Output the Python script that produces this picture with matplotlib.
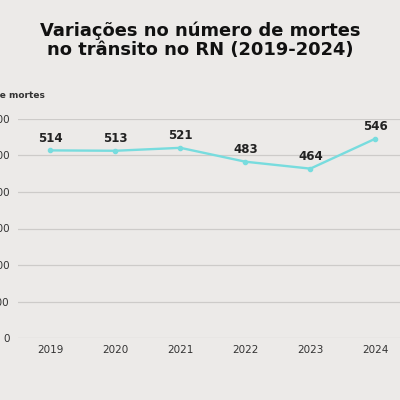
import matplotlib
matplotlib.use("Agg")
import matplotlib.pyplot as plt

years = [2019, 2020, 2021, 2022, 2023, 2024]
deaths = [514, 513, 521, 483, 464, 546]
yticks = [0, 100, 200, 300, 400, 500, 600]

BG = "#ECEAE8"
LINE = "#78DCDE"

fig = plt.figure(figsize=(4, 4), dpi=100, facecolor=BG)
# axes deliberately starts near the left edge so tick labels are cut off as in the source
ax = fig.add_axes([0.045, 0.155, 0.955, 0.5475], facecolor=BG)

ax.plot(years, deaths, color=LINE, linewidth=1.7, marker="o", markersize=3)
for x, y in zip(years, deaths):
    ax.annotate(str(y), (x, y), xytext=(0, 4), textcoords="offset points",
                ha="center", va="bottom", fontsize=8.5, fontweight="bold",
                color="#222222", family="DejaVu Sans")

ax.set_xlim(2018.5, 2024.38)
ax.set_ylim(0, 600)
ax.set_xticks(years)
ax.set_yticks(yticks)
ax.tick_params(axis="both", length=0, labelsize=7.5, colors="#333333")
ax.tick_params(axis="x", pad=5)
ax.tick_params(axis="y", pad=6)
for s in ax.spines.values():
    s.set_visible(False)
ax.grid(axis="y", color="#CDCBC9", linewidth=0.9)
ax.set_axisbelow(True)

fig.text(0.5, 0.9, "Variações no número de mortes\nno trânsito no RN (2019-2024)",
         ha="center", va="center", fontsize=12.9, fontweight="bold",
         family="DejaVu Sans", color="#111111", linespacing=1.1)
fig.text(0.113, 0.762, "Número de mortes", ha="right", va="center",
         fontsize=6.5, fontweight="bold", color="#333333")

fig.savefig("out.png", dpi=100, facecolor=BG)
